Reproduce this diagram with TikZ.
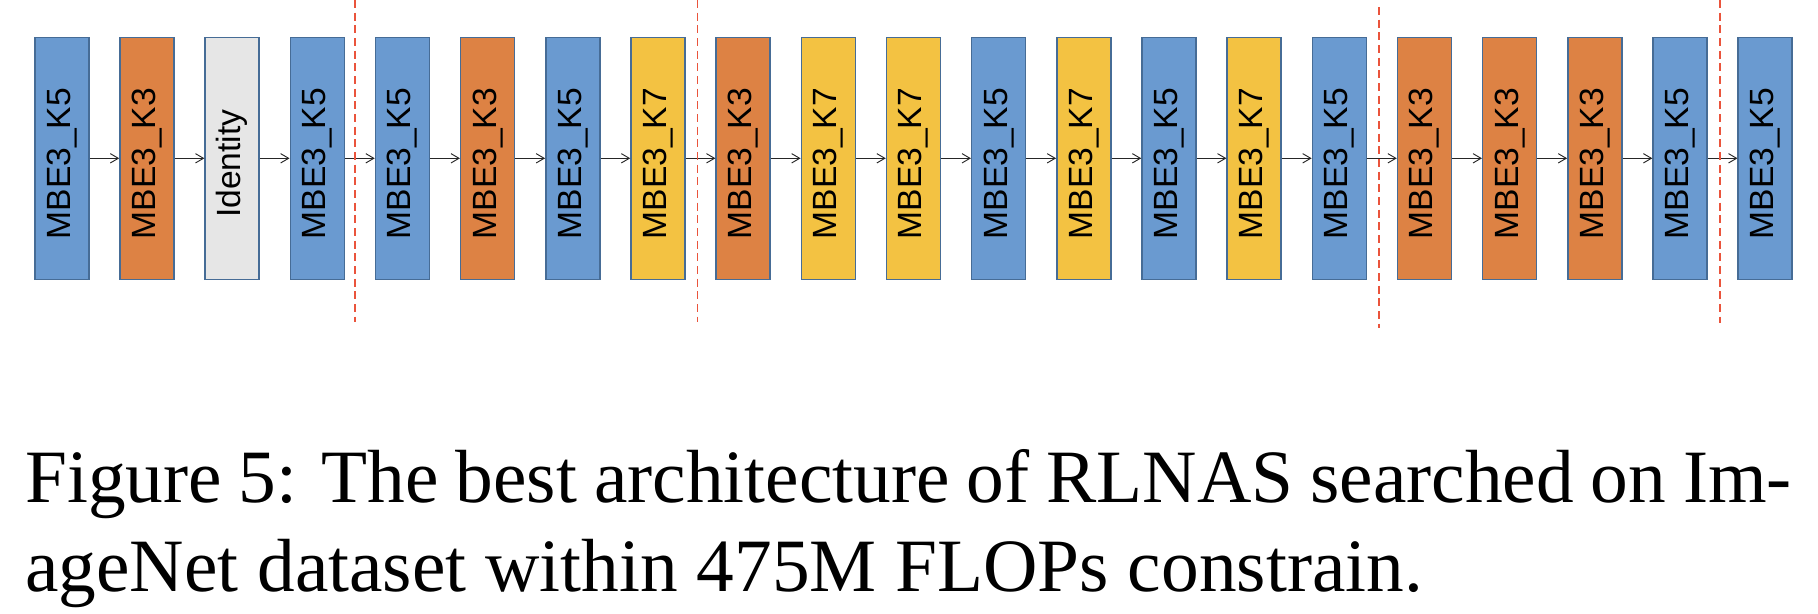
\documentclass[tikz,border=0pt]{standalone}
\usepackage{fontspec}
\setmainfont{Liberation Serif}
\newfontfamily\boxfont{Liberation Sans}
\usetikzlibrary{arrows.meta}
\definecolor{cblue}{RGB}{106,154,208}
\definecolor{corange}{RGB}{221,130,68}
\definecolor{cyellow}{RGB}{243,194,66}
\definecolor{cgray}{RGB}{230,230,230}
\definecolor{cborder}{RGB}{70,108,150}
\definecolor{cred}{RGB}{234,84,60}
\newcommand\lbl[1]{\rotatebox{90}{#1\kern8pt}}
\begin{document}
\begin{tikzpicture}[x=0.75pt,y=-0.75pt,
  blk/.style={draw=cborder, line width=1.1pt, minimum width=40.5pt, minimum height=181.5pt, inner sep=0pt, font=\boxfont\fontsize{25.2}{30}\selectfont},
  bbl/.style={blk, fill=cblue},
  bor/.style={blk, fill=corange},
  bye/.style={blk, fill=cyellow},
  bgr/.style={blk, fill=cgray},
  conn/.style={-{Straight Barb[length=6pt,width=7pt]}, line width=0.7pt, black!85},
  sepline/.style={draw=cred, line width=1.2pt, dash pattern=on 6pt off 3.5pt},
  captxt/.style={inner sep=0pt, anchor=base west, font=\fontsize{56.5}{67}\selectfont}]
\useasboundingbox (0,0) rectangle (1818,614);
\foreach \i/\s/\t in {1/bbl/MBE3\_K5, 2/bor/MBE3\_K3, 3/bgr/Identity, 4/bbl/MBE3\_K5,
  5/bbl/MBE3\_K5, 6/bor/MBE3\_K3, 7/bbl/MBE3\_K5, 8/bye/MBE3\_K7,
  9/bor/MBE3\_K3, 10/bye/MBE3\_K7, 11/bye/MBE3\_K7, 12/bbl/MBE3\_K5,
  13/bye/MBE3\_K7, 14/bbl/MBE3\_K5, 15/bye/MBE3\_K7, 16/bbl/MBE3\_K5,
  17/bor/MBE3\_K3, 18/bor/MBE3\_K3, 19/bor/MBE3\_K3, 20/bbl/MBE3\_K5, 21/bbl/MBE3\_K5}
  \node[\s] (b\i) at ({61.8+(\i-1)*85.17},158.3) {\lbl{\t}};
\foreach \i [evaluate=\i as \j using int(\i+1)] in {1,...,20}
  \draw[conn] (b\i) -- (b\j);
\coordinate (s1t) at (355,0);    \coordinate (s1b) at (355,322);
\coordinate (s2t) at (697.3,0);  \coordinate (s2b) at (697.3,322);
\coordinate (s3t) at (1379,7);   \coordinate (s3b) at (1379,328);
\coordinate (s4t) at (1719.7,0); \coordinate (s4b) at (1719.7,323);
\foreach \k in {1,2,3,4} \draw[sepline] (s\k t) -- (s\k b);
\node[captxt] (c1) at (25,502.7) {\hbox to 1325pt{Figure 5: The best architecture of RLNAS searched on Im-}};
\node[captxt] (c2) at (25,591.7) {ageNet dataset within 475M FLOPs constrain.};
\end{tikzpicture}
\end{document}
